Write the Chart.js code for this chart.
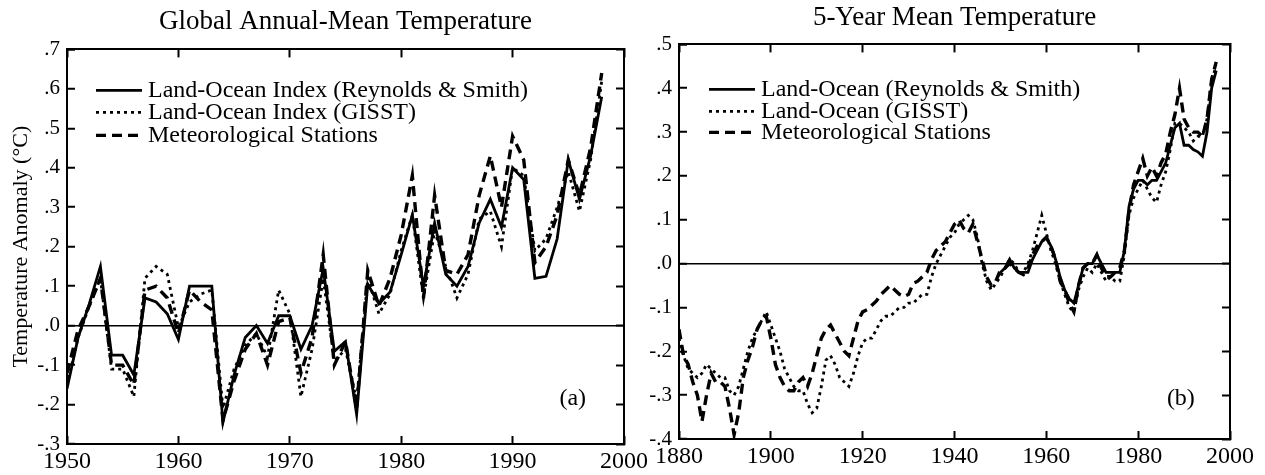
<!DOCTYPE html>
<html>
<head>
<meta charset="utf-8">
<script src="https://cdn.jsdelivr.net/npm/chart.js@4.4.1/dist/chart.umd.min.js"></script>
<style>
  body { margin: 0; background: #fff; width: 1265px; height: 475px; overflow: hidden; }
  .panel { position: absolute; top: 0; height: 475px; }
</style>
</head>
<body>
<div class="panel" style="left:0;width:660px"><canvas id="annual"></canvas></div>
<div class="panel" style="left:640px;width:625px"><canvas id="fiveYear"></canvas></div>
<script>
// ---- data ----
const annualYears = [1950, 1951, 1952, 1953, 1954, 1955, 1956, 1957, 1958, 1959,
  1960, 1961, 1962, 1963, 1964, 1965, 1966, 1967, 1968, 1969,
  1970, 1971, 1972, 1973, 1974, 1975, 1976, 1977, 1978, 1979,
  1980, 1981, 1982, 1983, 1984, 1985, 1986, 1987, 1988, 1989,
  1990, 1991, 1992, 1993, 1994, 1995, 1996, 1997, 1998]
const annualRS = [-0.16, -0.03, 0.055, 0.15, -0.075, -0.075, -0.125, 0.07, 0.06, 0.03,
  -0.035, 0.10, 0.10, 0.10, -0.245, -0.125, -0.03, 0.0, -0.045, 0.025,
  0.025, -0.06, 0.0, 0.145, -0.065, -0.04, -0.225, 0.105, 0.055, 0.085,
  0.18, 0.28, 0.10, 0.26, 0.13, 0.10, 0.15, 0.26, 0.32, 0.25,
  0.40, 0.37, 0.12, 0.125, 0.22, 0.42, 0.32, 0.43, 0.58]
const annualGISST = [-0.15, -0.03, 0.05, 0.12, -0.11, -0.11, -0.18, 0.12, 0.15, 0.13,
  -0.005, 0.06, 0.08, 0.09, -0.21, -0.11, -0.05, -0.02, -0.08, 0.09,
  0.03, -0.18, -0.06, 0.12, -0.09, -0.06, -0.19, 0.12, 0.03, 0.08,
  0.19, 0.28, 0.07, 0.24, 0.15, 0.07, 0.13, 0.27, 0.29, 0.20,
  0.40, 0.38, 0.19, 0.22, 0.30, 0.39, 0.29, 0.42, 0.62]
const annualMet = [-0.12, -0.01, 0.05, 0.12, -0.10, -0.10, -0.15, 0.09, 0.10, 0.07,
  -0.02, 0.09, 0.06, 0.04, -0.24, -0.14, -0.06, -0.02, -0.10, 0.01,
  0.02, -0.12, -0.03, 0.18, -0.10, -0.04, -0.21, 0.14, 0.05, 0.12,
  0.23, 0.38, 0.07, 0.33, 0.14, 0.13, 0.18, 0.33, 0.43, 0.30,
  0.48, 0.42, 0.16, 0.20, 0.28, 0.42, 0.33, 0.45, 0.64]

const fiveYears = [1880, 1881, 1882, 1883, 1884, 1885, 1886, 1887, 1888, 1889,
  1890, 1891, 1892, 1893, 1894, 1895, 1896, 1897, 1898, 1899,
  1900, 1901, 1902, 1903, 1904, 1905, 1906, 1907, 1908, 1909,
  1910, 1911, 1912, 1913, 1914, 1915, 1916, 1917, 1918, 1919,
  1920, 1921, 1922, 1923, 1924, 1925, 1926, 1927, 1928, 1929,
  1930, 1931, 1932, 1933, 1934, 1935, 1936, 1937, 1938, 1939,
  1940, 1941, 1942, 1943, 1944, 1945, 1946, 1947, 1948, 1949,
  1950, 1951, 1952, 1953, 1954, 1955, 1956, 1957, 1958, 1959,
  1960, 1961, 1962, 1963, 1964, 1965, 1966, 1967, 1968, 1969,
  1970, 1971, 1972, 1973, 1974, 1975, 1976, 1977, 1978, 1979,
  1980, 1981, 1982, 1983, 1984, 1985, 1986, 1987, 1988, 1989,
  1990, 1991, 1992, 1993, 1994, 1995, 1996, 1997]
// Reynolds & Smith only starts in 1950
const fiveRS = [null, null, null, null, null, null, null, null, null, null,
  null, null, null, null, null, null, null, null, null, null,
  null, null, null, null, null, null, null, null, null, null,
  null, null, null, null, null, null, null, null, null, null,
  null, null, null, null, null, null, null, null, null, null,
  null, null, null, null, null, null, null, null, null, null,
  null, null, null, null, null, null, null, null, null, null,
  -0.02, -0.01, 0.01, -0.01, -0.02, -0.02, -0.02, 0.01, 0.03, 0.05,
  0.06, 0.04, 0.01, -0.03, -0.06, -0.08, -0.09, -0.05, -0.01, 0.0,
  0.0, 0.02, 0.0, -0.02, -0.02, -0.02, -0.02, 0.03, 0.13, 0.17,
  0.19, 0.19, 0.18, 0.19, 0.19, 0.21, 0.23, 0.27, 0.31, 0.32,
  0.27, 0.27, 0.26, 0.255, 0.245, 0.30, 0.40, 0.44]
const fiveGISST = [-0.17, -0.21, -0.24, -0.25, -0.26, -0.25, -0.23, -0.24, -0.25, -0.26,
  -0.26, -0.29, -0.30, -0.28, -0.24, -0.20, -0.17, -0.15, -0.13, -0.11,
  -0.14, -0.17, -0.20, -0.24, -0.26, -0.28, -0.29, -0.29, -0.32, -0.34,
  -0.33, -0.28, -0.22, -0.21, -0.23, -0.26, -0.27, -0.28, -0.25, -0.21,
  -0.18, -0.17, -0.17, -0.15, -0.13, -0.12, -0.12, -0.11, -0.10, -0.10,
  -0.09, -0.09, -0.08, -0.07, -0.07, -0.03, 0.0, 0.02, 0.04, 0.06,
  0.07, 0.09, 0.10, 0.11, 0.10, 0.06, 0.0, -0.04, -0.06, -0.045,
  -0.03, -0.01, 0.01, 0.0, -0.02, -0.02, 0.0, 0.03, 0.07, 0.11,
  0.07, 0.03, 0.0, -0.04, -0.07, -0.10, -0.11, -0.06, -0.03, -0.01,
  -0.02, 0.0, -0.02, -0.04, -0.03, -0.04, -0.04, 0.02, 0.11, 0.15,
  0.17, 0.19, 0.17, 0.15, 0.14, 0.18, 0.21, 0.26, 0.32, 0.32,
  0.31, 0.30, 0.28, 0.29, 0.29, 0.33, 0.42, 0.45]
const fiveMet = [-0.15, -0.21, -0.23, -0.27, -0.30, -0.36, -0.30, -0.25, -0.27, -0.27,
  -0.28, -0.33, -0.39, -0.34, -0.26, -0.22, -0.19, -0.15, -0.13, -0.12,
  -0.17, -0.23, -0.26, -0.28, -0.29, -0.29, -0.27, -0.26, -0.28, -0.25,
  -0.21, -0.17, -0.15, -0.14, -0.16, -0.18, -0.20, -0.21, -0.17, -0.13,
  -0.11, -0.105, -0.095, -0.085, -0.07, -0.06, -0.05, -0.06, -0.07, -0.075,
  -0.07, -0.045, -0.04, -0.03, -0.02, 0.01, 0.03, 0.04, 0.05, 0.07,
  0.09, 0.10, 0.08, 0.07, 0.09, 0.05, 0.01, -0.03, -0.05, -0.04,
  -0.015, -0.01, 0.0, -0.01, -0.02, -0.025, -0.01, 0.02, 0.04, 0.05,
  0.06, 0.04, 0.01, -0.04, -0.06, -0.09, -0.11, -0.05, -0.01, 0.0,
  0.0, 0.02, -0.01, -0.03, -0.03, -0.02, -0.01, 0.03, 0.12, 0.18,
  0.21, 0.24, 0.20, 0.22, 0.20, 0.23, 0.25, 0.30, 0.34, 0.40,
  0.33, 0.31, 0.30, 0.30, 0.29, 0.33, 0.42, 0.46]

const annualLabels = ['Land-Ocean Index (Reynolds & Smith)', 'Land-Ocean Index (GISST)', 'Meteorological Stations']
const fiveLabels = ['Land-Ocean (Reynolds & Smith)', 'Land-Ocean (GISST)', 'Meteorological Stations']

const SERIF = "'Liberation Serif', 'Times New Roman', serif"
Chart.defaults.font.family = SERIF
Chart.defaults.color = '#000'

// line looks: solid, dotted, dashed
const looks = [
  { width: 2.8, dash: [] },
  { width: 2.8, dash: [3, 4] },
  { width: 3.4, dash: [10, 6] }
]

const fmtY = v => (v < -1e-6 ? '-' : '') + Math.abs(v).toFixed(1).replace(/^0/, '')

function pts(xs, ys) {
  return xs.map((x, i) => ({ x: x, y: ys[i] }))
}

// legend with line samples + panel letter, drawn inside the plot area
const panelText = {
  id: 'panelText',
  afterDraw(chart, args, o) {
    const c = chart.ctx, a = chart.chartArea
    c.save()
    c.fillStyle = '#000'
    c.strokeStyle = '#000'
    c.font = o.size + 'px ' + SERIF
    c.textBaseline = 'middle'
    o.labels.forEach((txt, i) => {
      const y = a.top + o.rows[i]
      const x0 = a.left + o.dx
      c.lineWidth = looks[i].width
      c.setLineDash(looks[i].dash)
      c.beginPath()
      c.moveTo(x0, y)
      c.lineTo(x0 + 46, y)
      c.stroke()
      c.fillText(txt, x0 + 52, y)
    })
    c.textAlign = 'center'
    c.fillText(o.tag, chart.scales.x.getPixelForValue(o.tagAt[0]), chart.scales.y.getPixelForValue(o.tagAt[1]))
    c.restore()
  }
}

function axes(xmin, xmax, xstep, ymin, ymax, yw, xh, yTitle) {
  const tickGrid = { drawOnChartArea: false, tickLength: -8, tickWidth: 2, tickColor: '#000' }
  const frame = { color: '#000', width: 2 }
  return {
    x: {
      type: 'linear', position: 'bottom', min: xmin, max: xmax,
      ticks: { stepSize: xstep, font: { size: 24 }, padding: 11, maxRotation: 0, autoSkip: false, callback: v => String(v) },
      grid: tickGrid, border: frame,
      afterFit: s => { s.height = xh }
    },
    x2: {
      type: 'linear', position: 'top', min: xmin, max: xmax,
      ticks: { stepSize: xstep, display: false },
      grid: tickGrid, border: frame,
      afterFit: s => { s.height = 0 }
    },
    y: {
      type: 'linear', position: 'left', min: ymin, max: ymax,
      ticks: { stepSize: 0.1, font: { size: 21 }, padding: 15, autoSkip: false, callback: fmtY },
      grid: {
        drawOnChartArea: true, tickLength: -8, tickWidth: 2, tickColor: '#000', lineWidth: 1.5,
        color: c => (c.tick && Math.abs(c.tick.value) < 1e-6) ? '#000' : 'rgba(0,0,0,0)'
      },
      border: frame,
      title: { display: !!yTitle, text: yTitle, font: { size: 22 }, padding: { top: 8, bottom: 0 } },
      afterFit: s => { s.width = yw }
    },
    y2: {
      type: 'linear', position: 'right', min: ymin, max: ymax,
      ticks: { stepSize: 0.1, display: false },
      grid: tickGrid, border: frame,
      afterFit: s => { s.width = 0 }
    }
  }
}

function lines(xs, series) {
  return series.map((vals, i) => ({
    data: pts(xs, vals),
    borderColor: '#000',
    borderWidth: looks[i].width,
    borderDash: looks[i].dash,
    pointRadius: 0,
    tension: 0,
    fill: false,
    spanGaps: false
  }))
}

new Chart(document.getElementById('annual'), {
  type: 'line',
  data: { datasets: lines(annualYears, [annualRS, annualGISST, annualMet]) },
  options: {
    responsive: true, maintainAspectRatio: false, animation: false,
    layout: { padding: { left: 0, right: 36, top: 0, bottom: 0 } },
    scales: axes(1950, 2000, 10, -0.3, 0.7, 67, 31, 'Temperature Anomaly (°C)'),
    plugins: {
      legend: { display: false },
      tooltip: { enabled: false },
      title: {
        display: true, text: 'Global Annual-Mean Temperature', fullSize: false,
        font: { size: 27, weight: 'normal' }, color: '#000', padding: { top: 6, bottom: 11 }
      },
      panelText: { labels: annualLabels, dx: 29, rows: [41, 63, 86], size: 24, tag: '(a)', tagAt: [1995.4, -0.186] }
    }
  },
  plugins: [panelText]
})

new Chart(document.getElementById('fiveYear'), {
  type: 'line',
  data: { datasets: lines(fiveYears, [fiveRS, fiveGISST, fiveMet]) },
  options: {
    responsive: true, maintainAspectRatio: false, animation: false,
    layout: { padding: { left: 0, right: 25, top: 0, bottom: 0 } },
    scales: axes(1880, 2000, 20, -0.4, 0.5, 39, 36, ''),
    plugins: {
      legend: { display: false },
      tooltip: { enabled: false },
      title: {
        display: true, text: '5-Year Mean Temperature', fullSize: false,
        font: { size: 27, weight: 'normal' }, color: '#000', padding: { top: 2, bottom: 10 }
      },
      panelText: { labels: fiveLabels, dx: 30, rows: [45, 67, 88], size: 24, tag: '(b)', tagAt: [1989.3, -0.307] }
    }
  },
  plugins: [panelText]
})
</script>
</body>
</html>
